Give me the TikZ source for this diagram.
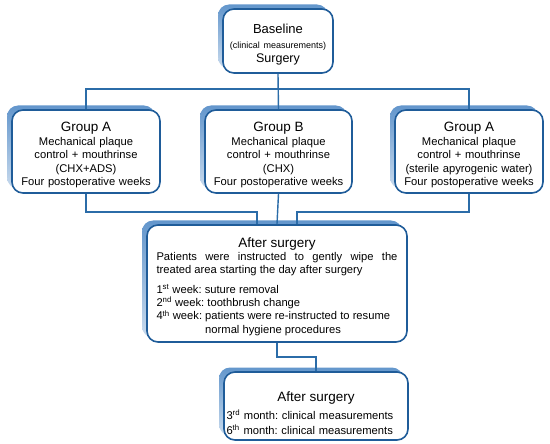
\documentclass[tikz,border=0pt]{standalone}
\usepackage{fontspec}
\setmainfont{Liberation Sans}
\usetikzlibrary{shadows}
\definecolor{boxblue}{HTML}{1F5C99}
\definecolor{lineblue}{HTML}{2B6CA8}
\definecolor{shadowblue}{HTML}{6396CC}
\newcommand{\ttlfont}{\fontsize{13.5}{16}\selectfont}
\frenchspacing
\begin{document}
\begin{tikzpicture}[x=1pt,y=-1pt,
  box/.style={draw=boxblue, line width=1.6pt, rounded corners=11pt, fill=white,
    general shadow={top color=shadowblue, middle color=shadowblue!90!white, bottom color=shadowblue!35!white,
      shadow xshift=-5pt, shadow yshift=4.5pt},
    inner sep=0pt, font=\fontsize{11.2}{13.35}\selectfont},
  conn/.style={draw=lineblue, line width=1.4pt}]
\useasboundingbox (0,0) rectangle (550,444);

\node[box, align=center, minimum width=110pt, minimum height=64pt, text width=106pt,
  font=\fontsize{11.2}{14.5}\selectfont] (top) at (278,41)
  {\rule{0pt}{17.4pt}{\fontsize{13}{14.5}\selectfont Baseline}\\{\fontsize{9}{14.5}\selectfont (clinical measurements)}\\{\fontsize{12.5}{14.5}\selectfont Surgery}};

\node[box, align=center, minimum width=148pt, minimum height=83pt, text width=146pt] (gA) at (86,151.5)
  {\rule{0pt}{16.7pt}{\ttlfont Group A}\\[0.5pt]Mechanical plaque\\control + mouthrinse\\(CHX+ADS)\\Four postoperative weeks};
\node[box, align=center, minimum width=147pt, minimum height=83pt, text width=145pt] (gB) at (278.5,151.5)
  {\rule{0pt}{16.7pt}{\ttlfont Group B}\\[0.5pt]Mechanical plaque\\control + mouthrinse\\(CHX)\\Four postoperative weeks};
\node[box, align=center, minimum width=148pt, minimum height=83pt, text width=146pt] (gC) at (469,151.5)
  {\rule{0pt}{16.7pt}{\ttlfont Group A}\\[0.5pt]Mechanical plaque\\control + mouthrinse\\(sterile apyrogenic water)\\Four postoperative weeks};

\node[box, align=justify, minimum width=260pt, minimum height=117pt, text width=241pt,
  font=\fontsize{11.2}{13.3}\selectfont] (mid) at (277,283.5)
  {{\centering\ttlfont\rule{0pt}{15.7pt}After surgery\par}
  Patients were instructed to gently wipe the\linebreak treated area starting the day after surgery\par
  \vspace{6.4pt}
  {\raggedright
  1\textsuperscript{st} week: suture removal\\
  2\textsuperscript{nd} week: toothbrush change\\
  4\textsuperscript{th} week: patients were re-instructed to resume\\
  \phantom{4\textsuperscript{th} week: }normal hygiene procedures\par}};

\node[box, align=left, minimum width=184pt, minimum height=68pt, text width=179pt,
  font=\fontsize{11.2}{15}\selectfont] (bot) at (316,406)
  {{\centering\ttlfont\rule{0pt}{23.7pt}After surgery\par}
  \vspace{3pt}
  3\textsuperscript{rd} month: clinical measurements\\
  6\textsuperscript{th} month: clinical measurements};

\coordinate (h1) at (0,89);
\coordinate (h2) at (0,212);
\coordinate (h3) at (0,357);
\coordinate (inL) at ([xshift=-20pt]mid.north);
\coordinate (inR) at ([xshift=20pt]mid.north);

\draw[conn] (top.south) -- (gB.north);
\draw[conn] (gA.north) -- (gA.north |- h1) -- (gC.north |- h1) -- (gC.north);
\draw[conn] (gA.south) -- (gA.south |- h2) -- (inL |- h2) -- (inL);
\draw[conn] (gC.south) -- (gC.south |- h2) -- (inR |- h2) -- (inR);
\draw[conn] (gB.south) -- (mid.north);
\draw[conn] (mid.south) -- (mid.south |- h3) -- (bot.north |- h3) -- (bot.north);
\end{tikzpicture}
\end{document}
